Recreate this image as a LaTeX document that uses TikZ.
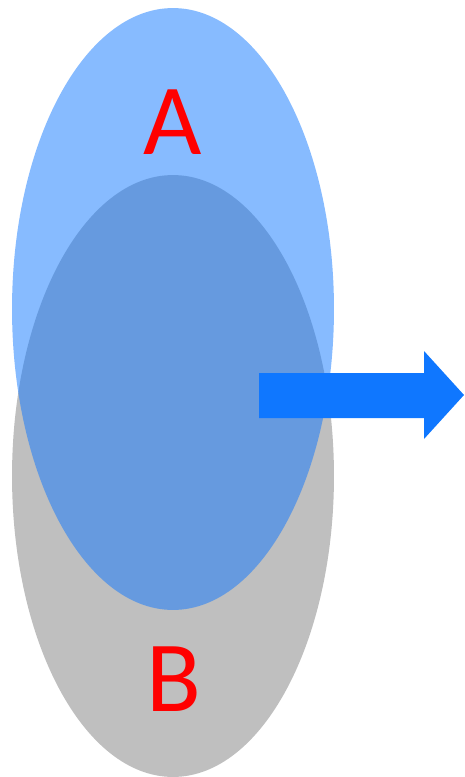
\documentclass[tikz,border=0pt]{standalone}
\usepackage{fontspec}
\setmainfont{Carlito}
\usepackage{xcolor}
\usepackage{tikz}
\usetikzlibrary{shapes.geometric}

\definecolor{setblue}{HTML}{0F77FF}
\definecolor{setgray}{HTML}{BFBFBF}

\begin{document}
\begin{tikzpicture}
[x=0.02cm,y=-0.02cm,
setb/.style={ellipse,fill=setgray,inner sep=0pt,minimum width=6.44cm,minimum height=12.04cm},
seta/.style={ellipse,fill=setblue,fill opacity=0.5,inner sep=0pt,minimum width=6.44cm,minimum height=12.04cm},
letter/.style={text=red,font=\fontsize{57.4}{66}\selectfont,inner sep=0pt}]
\useasboundingbox (0,0) rectangle (464,777);

\node at (173,476) [setb] (setB) {};
\node at (173,309) [seta] (setA) {};
\node at (173,122.5) [letter] (labA) {A};
\node at (174,679) [letter] (labB) {B};

% block arrow
\fill [setblue] (259,373) -- (424,373) -- (424,351) -- (464,395)
  -- (424,439) -- (424,418) -- (259,418) -- cycle;
\end{tikzpicture}
\end{document}
